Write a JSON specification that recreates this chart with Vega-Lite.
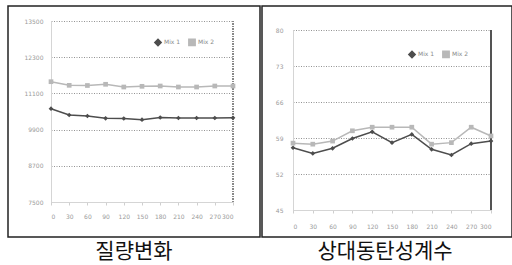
{
  "$schema": "https://vega.github.io/schema/vega-lite/v6.json",
  "padding": {"left": 7, "top": 5, "right": 0, "bottom": 0},
  "background": "white",
  "spacing": 0,
  "config": {
    "view": {"stroke": "#222", "strokeWidth": 1.5},
    "font": "DejaVu Sans",
    "concat": {"spacing": 0},
    "axis": {"labelFont": "DejaVu Sans", "labelFontSize": 6, "labelColor": "#9a9a9a", "title": null, "gridColor": "#777", "gridDash": [1, 1.5], "gridWidth": 0.8, "domainColor": "#d5d5d5", "tickColor": "#cfcfcf", "labelOverlap": false}
  },
  "datasets": {
    "mass": [
      {"t": 0, "s": "Mix 1", "v": 10593}, {"t": 30, "s": "Mix 1", "v": 10384}, {"t": 60, "s": "Mix 1", "v": 10351},
      {"t": 90, "s": "Mix 1", "v": 10275}, {"t": 120, "s": "Mix 1", "v": 10268}, {"t": 150, "s": "Mix 1", "v": 10228},
      {"t": 180, "s": "Mix 1", "v": 10301}, {"t": 210, "s": "Mix 1", "v": 10284}, {"t": 240, "s": "Mix 1", "v": 10284},
      {"t": 270, "s": "Mix 1", "v": 10284}, {"t": 300, "s": "Mix 1", "v": 10290},
      {"t": 0, "s": "Mix 2", "v": 11488}, {"t": 30, "s": "Mix 2", "v": 11368}, {"t": 60, "s": "Mix 2", "v": 11362},
      {"t": 90, "s": "Mix 2", "v": 11402}, {"t": 120, "s": "Mix 2", "v": 11312}, {"t": 150, "s": "Mix 2", "v": 11335},
      {"t": 180, "s": "Mix 2", "v": 11345}, {"t": 210, "s": "Mix 2", "v": 11312}, {"t": 240, "s": "Mix 2", "v": 11312},
      {"t": 270, "s": "Mix 2", "v": 11345}, {"t": 300, "s": "Mix 2", "v": 11345}
    ],
    "dyn": [
      {"t": 0, "s": "Mix 1", "v": 57.1}, {"t": 30, "s": "Mix 1", "v": 56.0}, {"t": 60, "s": "Mix 1", "v": 57.0},
      {"t": 90, "s": "Mix 1", "v": 58.9}, {"t": 120, "s": "Mix 1", "v": 60.2}, {"t": 150, "s": "Mix 1", "v": 58.1},
      {"t": 180, "s": "Mix 1", "v": 59.7}, {"t": 210, "s": "Mix 1", "v": 56.8}, {"t": 240, "s": "Mix 1", "v": 55.7},
      {"t": 270, "s": "Mix 1", "v": 57.9}, {"t": 300, "s": "Mix 1", "v": 58.4},
      {"t": 0, "s": "Mix 2", "v": 58.0}, {"t": 30, "s": "Mix 2", "v": 57.8}, {"t": 60, "s": "Mix 2", "v": 58.4},
      {"t": 90, "s": "Mix 2", "v": 60.4}, {"t": 120, "s": "Mix 2", "v": 61.1}, {"t": 150, "s": "Mix 2", "v": 61.1},
      {"t": 180, "s": "Mix 2", "v": 61.1}, {"t": 210, "s": "Mix 2", "v": 57.8}, {"t": 240, "s": "Mix 2", "v": 58.1},
      {"t": 270, "s": "Mix 2", "v": 61.1}, {"t": 300, "s": "Mix 2", "v": 59.4}
    ]
  },
  "vconcat": [
    {
      "hconcat": [
        {
          "width": 252, "height": 231,
          "data": {"name": "mass"},
          "encoding": {
            "x": {"field": "t", "type": "quantitative", "scale": {"domain": [0, 300], "range": [43, 225], "zero": false, "nice": false},
                  "axis": {"values": [0, 30, 60, 90, 120, 150, 180, 210, 240, 270, 300], "offset": -35, "grid": false, "tickSize": 3, "labelPadding": 8}},
            "y": {"field": "v", "type": "quantitative", "scale": {"domain": [7500, 13500], "range": [196, 15], "zero": false, "nice": false},
                  "axis": {"values": [7500, 8700, 9900, 11100, 12300, 13500], "offset": -43, "ticks": false, "grid": true, "labelPadding": 8, "format": "d"}},
            "color": {"field": "s", "type": "nominal", "scale": {"domain": ["Mix 1", "Mix 2"], "range": ["#4d4d4d", "#b8b8b8"]},
                      "legend": {"orient": "none", "legendX": 146, "legendY": 32, "direction": "horizontal", "title": null, "labelFontSize": 6, "labelColor": "#888", "symbolSize": 40, "columnPadding": 4, "labelOffset": 2}}
          },
          "layer": [
            {
              "mark": {"type": "rule", "stroke": "#888", "strokeDash": [1, 1.5], "strokeWidth": 0.8},
              "encoding": {"x": {"datum": 300}, "y": {"datum": 7500}, "y2": {"datum": 13500}, "color": null}
            },
            {
              "mark": {"type": "line", "strokeWidth": 1.5}
            },
            {
              "mark": {"type": "point", "filled": true, "size": 22, "opacity": 1},
              "encoding": {
                "shape": {"field": "s", "type": "nominal", "scale": {"domain": ["Mix 1", "Mix 2"], "range": ["diamond", "square"]}, "legend": null}
              }
            }
          ]
        },
        {
          "width": 250, "height": 231,
          "data": {"name": "dyn"},
          "encoding": {
            "x": {"field": "t", "type": "quantitative", "scale": {"domain": [0, 300], "range": [31, 229], "zero": false, "nice": false},
                  "axis": {"values": [0, 30, 60, 90, 120, 150, 180, 210, 240, 270, 300], "offset": -27, "grid": false, "tickSize": 3, "labelPadding": 10}},
            "y": {"field": "v", "type": "quantitative", "scale": {"domain": [45, 80], "range": [204, 24], "zero": false, "nice": false},
                  "axis": {"values": [45, 52, 59, 66, 73, 80], "offset": -31, "ticks": false, "grid": true, "labelPadding": 10}},
            "color": {"field": "s", "type": "nominal", "scale": {"domain": ["Mix 1", "Mix 2"], "range": ["#4d4d4d", "#b8b8b8"]},
                      "legend": {"orient": "none", "legendX": 146, "legendY": 44, "direction": "horizontal", "title": null, "labelFontSize": 6, "labelColor": "#888", "symbolSize": 40, "columnPadding": 4, "labelOffset": 2}}
          },
          "layer": [
            {
              "mark": {"type": "rule", "stroke": "#555", "strokeWidth": 1},
              "encoding": {"x": {"datum": 300}, "y": {"datum": 45}, "y2": {"datum": 80}, "color": null}
            },
            {
              "mark": {"type": "line", "strokeWidth": 1.5}
            },
            {
              "mark": {"type": "point", "filled": true, "size": 22, "opacity": 1},
              "encoding": {
                "shape": {"field": "s", "type": "nominal", "scale": {"domain": ["Mix 1", "Mix 2"], "range": ["diamond", "square"]}, "legend": null}
              }
            }
          ]
        }
      ],
      "spacing": 0,
      "resolve": {"scale": {"x": "independent", "y": "independent", "color": "independent", "shape": "independent"}, "legend": {"color": "independent", "shape": "independent"}}
    },
    {
      "hconcat": [
        {
          "width": 252, "height": 28,
          "data": {"values": [{"c": "질량변화"}]},
          "mark": {"type": "text", "font": "Noto Sans CJK KR", "fontSize": 21, "color": "#111", "baseline": "middle", "align": "center"},
          "encoding": {"text": {"field": "c", "type": "nominal"}}
        },
        {
          "width": 250, "height": 28,
          "data": {"values": [{"c": "상대동탄성계수"}]},
          "mark": {"type": "text", "font": "Noto Sans CJK KR", "fontSize": 21, "color": "#111", "baseline": "middle", "align": "center"},
          "encoding": {"text": {"field": "c", "type": "nominal"}}
        }
      ],
      "spacing": 0
    }
  ]
}
